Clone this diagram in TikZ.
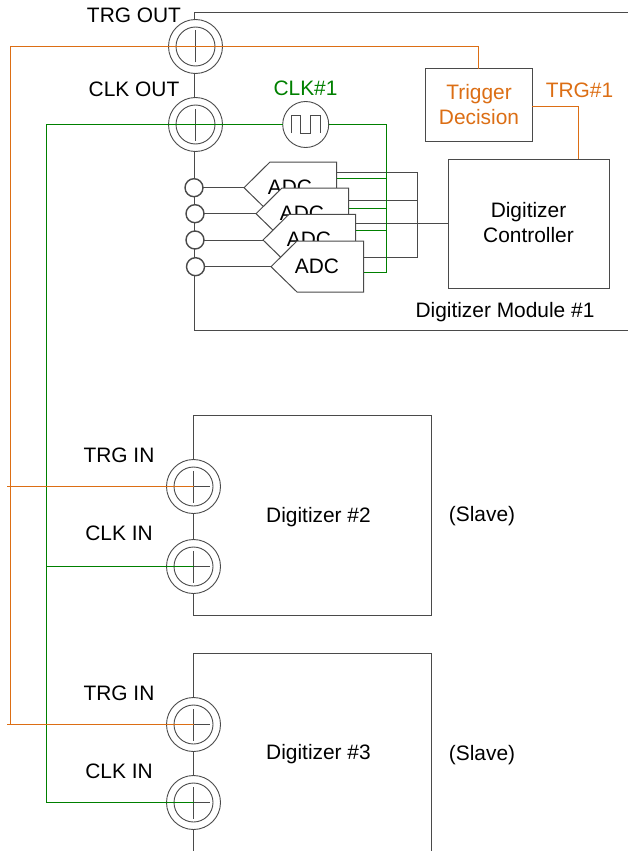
\documentclass[tikz,border=0pt]{standalone}
\usepackage{fontspec}
\setmainfont{Liberation Sans}
\definecolor{wire}{HTML}{4A4A4A}
\definecolor{orng}{HTML}{DC6E14}
\definecolor{grn}{HTML}{008000}
\tikzset{
  wireline/.style={draw=wire,line width=1pt},
  trgline/.style={draw=orng,line width=1pt},
  clkline/.style={draw=grn,line width=1pt},
  lbl/.style={inner sep=0pt,anchor=base,yshift=-7.4pt,font=\fontsize{20.9}{25}\selectfont,text=black},
  bigconn/.style={circle,draw=wire,line width=0.9pt,fill=white,minimum size=54pt,inner sep=0pt,outer sep=0pt},
  smallconn/.style={circle,draw=wire,line width=1.4pt,fill=white,minimum size=18pt,inner sep=0pt,outer sep=0pt},
  boxnode/.style={draw=wire,line width=1pt,fill=white,inner sep=0pt,outer sep=0pt,anchor=north west},
  adcshape/.style={draw=wire,line width=1pt,fill=white,line join=miter}
}
\begin{document}
\begin{tikzpicture}[x=1pt,y=-1pt]
\useasboundingbox (0,0) rectangle (628,851);
% module 1 frame
\coordinate (ft) at (194,12.5);
\coordinate (fte) at (628,12.5);
\coordinate (fb) at (194,330);
\coordinate (fbe) at (628,330);
\draw[wireline] (fte) -- (ft) -- (fb) -- (fbe);
% boxes
\node[boxnode,minimum width=107pt,minimum height=72.5pt] (trig) at (425,69) {};
\node[boxnode,minimum width=161pt,minimum height=129pt] (ctrl) at (448,159) {};
\coordinate (d2tl) at (193,415);
\coordinate (d2tr) at (431,415);
\coordinate (d2br) at (431,615);
\coordinate (d2bl) at (193,615);
\draw[wireline] (d2bl) -- (d2tl) -- (d2tr) -- (d2br) -- (d2bl);
\coordinate (d3bl) at (193,851);
\coordinate (d3tl) at (193,653);
\coordinate (d3tr) at (431,653);
\coordinate (d3br) at (431,851);
\draw[wireline] (d3bl) -- (d3tl) -- (d3tr) -- (d3br);
% big connectors
\node[bigconn] (trgout) at (195.5,46.5) {};
\node[bigconn] (clkout) at (195.5,124.5) {};
\node[bigconn] (trgina) at (193.5,486.5) {};
\node[bigconn] (clkina) at (193.5,566.5) {};
\node[bigconn] (trginb) at (193.5,724.5) {};
\node[bigconn] (clkinb) at (193.5,802.5) {};
\foreach \n in {trgout,clkout,trgina,clkina,trginb,clkinb}{
  \draw[wireline,line width=0.9pt] (\n.center) circle[radius=19.5pt];
  \draw[wireline] ([xshift=-16pt]\n.center) -- ([xshift=16pt]\n.center);
  \draw[wireline] ([yshift=-16pt]\n.center) -- ([yshift=16pt]\n.center);
}
% clock source
\node[circle,draw=wire,line width=0.9pt,minimum size=46pt,inner sep=0pt,outer sep=0pt] (clksrc) at (305.7,124.5) {};
\draw[wireline] (291.7,133) -- (291.7,115.5) -- (300,115.5) -- (300,133) -- (310.7,133) -- (310.7,115.5) -- (320,115.5) -- (320,133);
% small connectors
\node[smallconn] (s1) at (194,187.7) {};
\node[smallconn] (s2) at (195,213.7) {};
\node[smallconn] (s3) at (195,240) {};
\node[smallconn] (s4) at (195.5,266.7) {};
% ADCs
\foreach \i/\dx/\dy in {1/-27/-79,2/-15/-53,3/-8/-26.7,4/0/0}{
  \begin{scope}[shift={(\dx,\dy)}]
    \coordinate (ap\i) at (271,266.7);
    \draw[wireline] (s\i) -- (ap\i);
    \draw[adcshape] (ap\i) -- (297,241) -- (363.7,241) -- (363.7,292) -- (297,292) -- cycle;
    \node[lbl] (adc\i) at (317,266) {ADC};
  \end{scope}
}
% ADC outputs
\coordinate (g1) at (336.7,172);
\coordinate (g2) at (348.7,200.7);
\coordinate (g3) at (355.7,223);
\coordinate (g4) at (363.7,257.3);
\coordinate (b1) at (417,172);
\coordinate (b2) at (417,200.7);
\coordinate (b4) at (417,257.3);
\draw[wireline] (g1) -- (b1) -- (b4) -- (g4);
\draw[wireline] (g2) -- (b2);
\draw[wireline] (g3) -- (ctrl.west |- g3);
\coordinate (c0) at (386.5,124.5);
\coordinate (c1) at (386.5,178.5);
\coordinate (c2) at (386.5,208.5);
\coordinate (c3) at (386.5,230.5);
\coordinate (c4) at (386.5,272.5);
\coordinate (h1) at (336.7,178.5);
\coordinate (h2) at (348.7,208.5);
\coordinate (h3) at (355.7,230.5);
\coordinate (h4) at (363.7,272.5);
\draw[clkline] (clksrc.east) -- (c0) -- (c4) -- (h4);
\draw[clkline] (c1) -- (h1);
\draw[clkline] (c2) -- (h2);
\draw[clkline] (c3) -- (h3);
% clock tree
\coordinate (cl) at (46.5,124.5);
\coordinate (cn) at (46.5,802.5);
\draw[clkline] (clksrc.west) -- (cl) -- (cn) -- (clkinb.center);
\draw[clkline] (46,566.5) -- (clkina.center);
% trigger tree
\coordinate (tl) at (10.5,46.5);
\coordinate (tm) at (10.5,724.5);
\coordinate (tr) at (478.5,46.5);
\coordinate (ta) at (7,486.5);
\coordinate (tb) at (7,724.5);
\draw[trgline] (trig.north -| tr) -- (tr) -- (tl) -- (tm);
\draw[trgline] (ta) -- (trgina.center);
\draw[trgline] (tb) -- (trginb.center);
\coordinate (tc) at (578.5,106.5);
\draw[trgline] (trig.east |- tc) -- (tc) -- (ctrl.north -| tc);
% labels
\node[lbl] (l1) at (134,15) {TRG OUT};
\node[lbl] (l2) at (134,89) {CLK OUT};
\node[lbl,text=grn] (l3) at (305.5,88) {CLK\#1};
\node[lbl,text=orng] (l4) at (479,92) {Trigger};
\node[lbl,text=orng] (l5) at (479,117) {Decision};
\node[lbl,text=orng] (l6) at (579.5,90) {TRG\#1};
\node[lbl] (l7) at (528.5,210) {Digitizer};
\node[lbl] (l8) at (528.5,235) {Controller};
\node[lbl] (l9) at (505,310) {Digitizer Module \#1};
\node[lbl] (l10) at (119,455) {TRG IN};
\node[lbl] (l11) at (119,533) {CLK IN};
\node[lbl] (l12) at (119,693) {TRG IN};
\node[lbl] (l13) at (119,771) {CLK IN};
\node[lbl] (l14) at (318.5,515) {Digitizer \#2};
\node[lbl] (l15) at (318.5,752) {Digitizer \#3};
\node[lbl] (l16) at (482,514) {(Slave)};
\node[lbl] (l17) at (482,753) {(Slave)};
\end{tikzpicture}
\end{document}
